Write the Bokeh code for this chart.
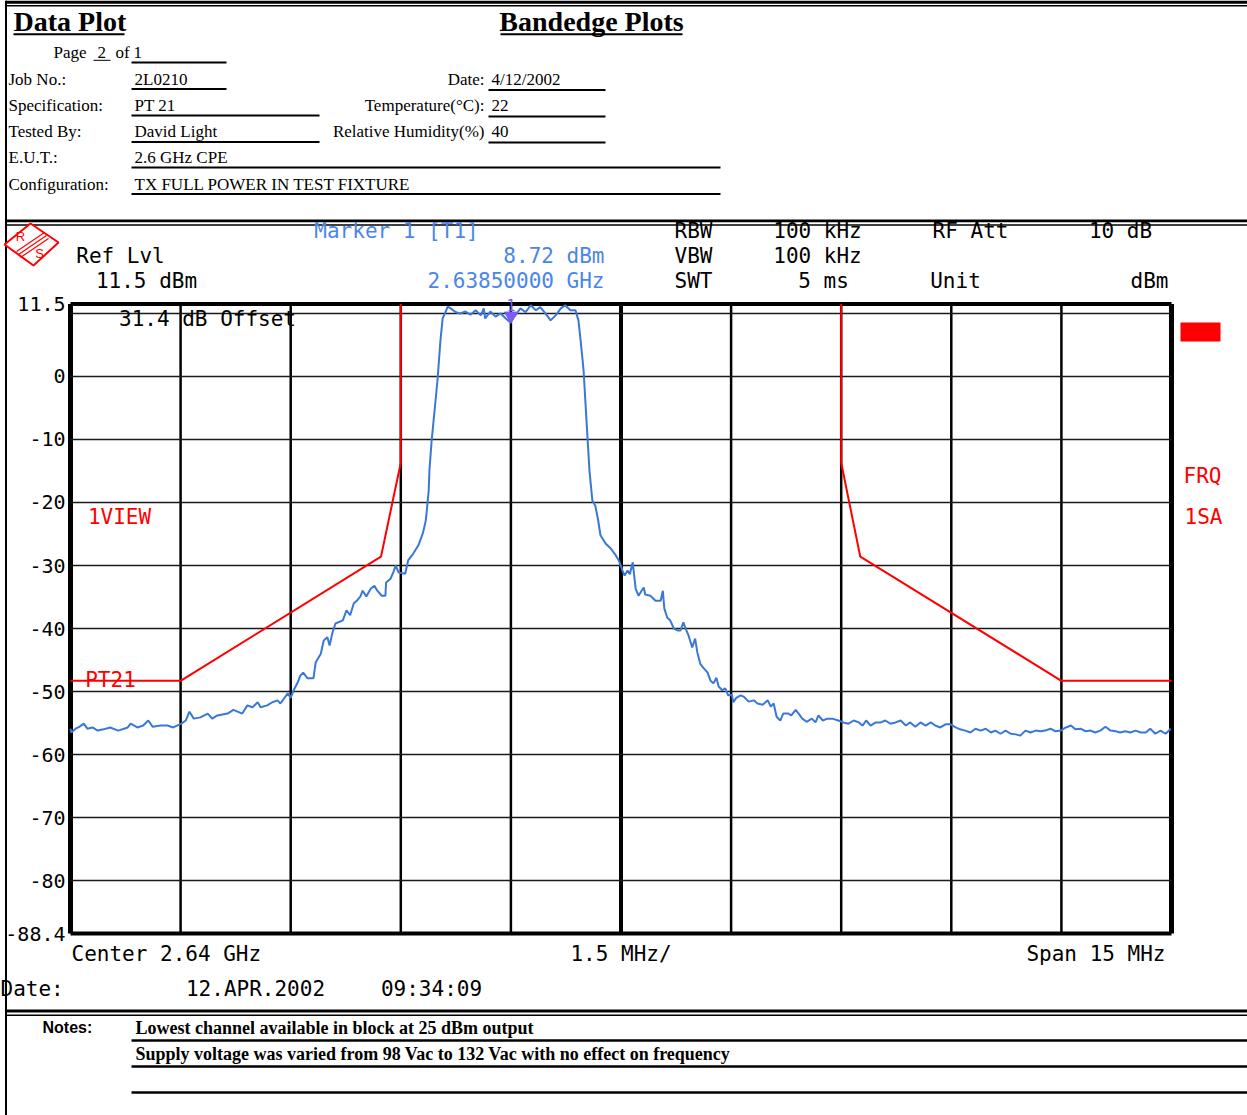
from bokeh.plotting import figure
from bokeh.models import Range1d
from bokeh.core.properties import value
from bokeh.embed import file_html
from bokeh.resources import INLINE

# ---------------- data ----------------
# frequency offset from centre 2.64 GHz, in MHz
trace_offset_mhz = [
    -7.50, -7.49, -7.43, -7.38, -7.32, -7.27, -7.20, -7.13, -7.05, -6.96,
    -6.85, -6.72, -6.68, -6.59, -6.51, -6.44, -6.38, -6.27, -6.18, -6.10,
    -5.99, -5.93, -5.88, -5.82, -5.73, -5.63, -5.57, -5.50, -5.36, -5.28,
    -5.16, -5.09, -5.02, -4.95, -4.91, -4.82, -4.75, -4.68, -4.64, -4.54,
    -4.50, -4.46, -4.41, -4.37, -4.33, -4.27, -4.19, -4.16, -4.09, -4.05,
    -4.00, -3.97, -3.93, -3.89, -3.79, -3.74, -3.69, -3.64, -3.60, -3.55,
    -3.52, -3.47, -3.41, -3.36, -3.32, -3.26, -3.21, -3.20, -3.14, -3.10,
    -3.07, -3.03, -2.94, -2.90, -2.83, -2.76, -2.70, -2.66, -2.64, -2.62,
    -2.61, -2.58, -2.54, -2.50, -2.46, -2.43, -2.36, -2.32, -2.25, -2.19,
    -2.12, -2.05, -1.98, -1.91, -1.87, -1.85, -1.78, -1.71, -1.64, -1.57,
    -1.51, -1.44, -1.37, -1.30, -1.23, -1.16, -1.10, -1.03, -0.96, -0.89,
    -0.82, -0.76, -0.69, -0.62, -0.58, -0.55, -0.51, -0.47, -0.43, -0.39,
    -0.35, -0.31, -0.28, -0.21, -0.14, -0.07, -0.03, 0.02, 0.05, 0.09,
    0.12, 0.16, 0.20, 0.24, 0.28, 0.31, 0.33, 0.40, 0.47, 0.54,
    0.57, 0.59, 0.63, 0.67, 0.72, 0.77, 0.81, 0.85, 0.88, 0.92,
    0.97, 1.01, 1.04, 1.08, 1.12, 1.18, 1.22, 1.26, 1.30, 1.33,
    1.38, 1.42, 1.46, 1.51, 1.53, 1.57, 1.63, 1.67, 1.74, 1.81,
    1.86, 1.93, 2.00, 2.04, 2.08, 2.12, 2.17, 2.21, 2.28, 2.32,
    2.38, 2.42, 2.47, 2.53, 2.60, 2.65, 2.69, 2.75, 2.81, 2.88,
    2.96, 3.03, 3.10, 3.17, 3.24, 3.29, 3.34, 3.40, 3.47, 3.54,
    3.60, 3.67, 3.74, 3.81, 3.88, 3.94, 4.01, 4.08, 4.15, 4.22,
    4.28, 4.35, 4.42, 4.49, 4.56, 4.62, 4.69, 4.76, 4.83, 4.90,
    4.97, 5.04, 5.10, 5.17, 5.24, 5.31, 5.38, 5.44, 5.51, 5.58,
    5.65, 5.72, 5.78, 5.85, 5.92, 5.99, 6.06, 6.13, 6.19, 6.26,
    6.33, 6.40, 6.46, 6.53, 6.60, 6.67, 6.74, 6.80, 6.87, 6.94,
    7.01, 7.08, 7.15, 7.21, 7.28, 7.35, 7.42, 7.49,
]
trace_level_dbm = [
    -55.9, -56.5, -55.9, -55.6, -55.1, -55.9, -55.7, -56.2, -56.0, -55.7,
    -56.2, -55.7, -55.1, -55.7, -55.4, -54.6, -55.6, -55.4, -55.4, -55.7,
    -55.1, -54.6, -53.2, -54.3, -54.1, -53.5, -54.3, -53.8, -53.5, -52.9,
    -53.5, -52.2, -52.5, -51.7, -52.5, -52.2, -51.7, -51.4, -51.9, -50.3,
    -51.0, -49.8, -48.7, -47.5, -47.0, -47.9, -47.9, -45.4, -44.0, -41.9,
    -41.4, -42.7, -40.6, -39.2, -38.7, -37.1, -37.9, -36.0, -35.6, -34.9,
    -34.0, -34.9, -33.7, -33.2, -34.0, -34.8, -34.8, -32.7, -32.1, -31.0,
    -30.0, -31.1, -31.3, -29.2, -28.1, -26.8, -24.9, -22.9, -20.6, -18.1,
    -14.9, -10.2, -5.4, -0.6, 5.7, 9.2, 11.1, 10.8, 10.2, 10.0,
    10.3, 9.8, 10.5, 9.7, 10.8, 9.2, 10.3, 9.5, 10.0, 9.2,
    8.6, 9.7, 10.8, 10.2, 11.3, 10.5, 11.0, 10.0, 8.9, 9.7,
    10.8, 11.3, 10.5, 10.5, 8.9, 5.7, 1.0, -7.0, -14.9, -19.7,
    -20.5, -22.9, -25.2, -26.5, -27.3, -28.4, -29.2, -30.8, -31.6, -30.8,
    -31.4, -29.5, -33.7, -34.8, -34.0, -33.5, -34.6, -34.8, -35.6, -35.6,
    -34.0, -36.8, -38.3, -38.7, -40.0, -40.3, -40.3, -39.0, -40.0, -41.1,
    -43.0, -41.6, -43.8, -45.6, -46.2, -47.0, -48.3, -48.7, -47.8, -49.2,
    -49.8, -49.5, -50.6, -50.5, -51.7, -51.0, -50.6, -50.8, -51.6, -51.4,
    -51.9, -52.1, -51.4, -52.4, -51.9, -54.0, -54.6, -53.5, -53.5, -53.8,
    -52.9, -53.5, -54.3, -54.8, -54.3, -54.9, -53.8, -54.6, -54.3, -54.3,
    -54.6, -54.9, -55.1, -54.6, -54.9, -55.4, -54.6, -55.4, -54.9, -54.9,
    -54.6, -55.1, -54.9, -54.6, -55.4, -54.9, -55.6, -54.9, -55.4, -54.9,
    -55.4, -55.7, -55.2, -55.2, -55.7, -56.0, -56.2, -56.5, -55.9, -56.2,
    -55.9, -56.5, -56.2, -56.7, -56.2, -56.7, -56.8, -57.0, -56.2, -56.5,
    -56.2, -56.3, -56.2, -55.9, -56.3, -56.2, -55.7, -55.4, -56.0, -55.9,
    -56.3, -56.2, -56.5, -56.2, -55.6, -56.2, -56.3, -56.5, -56.3, -56.5,
    -56.2, -56.5, -56.5, -55.9, -56.7, -56.2, -56.7, -55.9,
]

# PT21 limit mask
mask_left_offset_mhz = [-7.5, -6.0, -3.27, -3.0, -3.0]
mask_left_level_dbm = [-48.3, -48.3, -28.6, -13.7, 11.5]
mask_right_offset_mhz = [3.0, 3.0, 3.26, 6.0, 7.5]
mask_right_level_dbm = [11.5, -13.7, -28.6, -48.3, -48.3]

# marker 1 (2.6385 GHz, 8.72 dBm)
marker_offset_mhz = [-1.5]
marker_level_dbm = [8.72]

# axes / divisions
freq_div_ticks = [-7.5, -6.0, -4.5, -3.0, -1.5, 0.0, 1.5, 3.0, 4.5, 6.0, 7.5]
level_grid_dbm = [10, 0, -10, -20, -30, -40, -50, -60, -70, -80]
level_tick_values = [11.5, 0, -10, -20, -30, -40, -50, -60, -70, -80, -88.4]
level_tick_labels = ["11.5", "0", "-10", "-20", "-30", "-40", "-50", "-60",
                     "-70", "-80", "-88.4"]

# form texts
form_labels = ["Job No.:", "Specification:", "Tested By:", "E.U.T.:", "Configuration:"]
form_values = ["2L0210", "PT 21", "David Light", "2.6 GHz CPE", "TX FULL POWER IN TEST FIXTURE"]
cond_labels = ["Date:", "Temperature(°C):", "Relative Humidity(%)"]
cond_values = ["4/12/2002", "22", "40"]
notes_lines = ["Lowest channel available in block at 25 dBm output",
               "Supply voltage was varied from 98 Vac to 132 Vac with no effect on frequency"]

# ---------------- layout ----------------
W, H = 1247, 1115
GX0, GX1 = 70.0, 1171.0      # grid left / right (px)
GY0, GY1 = 303.5, 933.0      # grid top / bottom (px)
f_lo, f_hi = freq_div_ticks[0], freq_div_ticks[-1]
l_hi, l_lo = level_tick_values[0], level_tick_values[-1]
kx = (f_hi - f_lo) / (GX1 - GX0)
ky = (l_hi - l_lo) / (GY1 - GY0)

p = figure(width=W, height=H,
           x_range=Range1d(f_lo - GX0 * kx, f_hi + (W - GX1) * kx),
           y_range=Range1d(l_lo - (H - GY1) * ky, l_hi + GY0 * ky),
           x_axis_location=None, y_axis_location=None,
           toolbar_location=None, output_backend="svg", min_border=0)
p.outline_line_color = None
p.background_fill_color = "white"
p.border_fill_color = "white"
p.grid.grid_line_color = None
p.extra_x_ranges = {"px": Range1d(0, W)}
p.extra_y_ranges = {"px": Range1d(H, 0)}
PX = dict(x_range_name="px", y_range_name="px")

RED = "#ff0000"
BLUE_TXT = "#4a86e8"
TRACE = "#3a78d8"
MONO = "DejaVu Sans Mono"
SERIF = "Liberation Serif"


def px_lines(segs, width, color="black"):
    p.segment(x0=[s[0] for s in segs], y0=[s[1] for s in segs],
              x1=[s[2] for s in segs], y1=[s[3] for s in segs],
              line_width=width, line_color=color, **PX)


def px_text(xs, ys, texts, font, size, color="black", align="left",
            baseline="middle", style="normal"):
    p.text(x=xs, y=ys, text=texts, text_font=value(font), text_font_size=size,
           text_color=color, text_align=align, text_baseline=baseline,
           text_font_style=style, **PX)


# ---------------- page form ----------------
px_lines([(5, 1.7, W, 1.7)], 3.3)
px_lines([(5, 5.2, W, 5.2), (5, 224.5, W, 224.5), (5, 1014.8, W, 1014.8)], 1.4)
px_lines([(5, 220.3, W, 220.3), (5, 1010.5, W, 1010.5)], 2.8)
px_lines([(5.5, 0, 5.5, H)], 2)

px_text([13], [21], ["Data Plot"], SERIF, "28px", style="bold")
px_text([591], [21], ["Bandedge Plots"], SERIF, "28px", align="center", style="bold")
px_lines([(13, 33.8, 124, 33.8), (500, 33.8, 682, 33.8)], 2)

px_text([53, 97, 115, 133], [52, 52, 52, 52], ["Page", "2", "of", "1"], SERIF, "17px")
px_lines([(93, 59.8, 110, 59.8)], 1)
form_mid = [78.5, 104.5, 130.5, 157, 183.5]
px_text([8] * 5, form_mid, form_labels, SERIF, "17px")
px_text([134] * 5, form_mid, form_values, SERIF, "17px")
px_text([484] * 3, form_mid[:3], cond_labels, SERIF, "17px", align="right")
px_text([491] * 3, form_mid[:3], cond_values, SERIF, "17px")
px_lines([(131, 62, 226, 62), (131, 88.5, 226, 88.5), (131, 115, 319, 115),
          (131, 141.5, 319, 141.5), (131, 167, 720, 167), (131, 193.5, 720, 193.5),
          (488, 89.5, 605, 89.5), (488, 116, 605, 116), (488, 142, 605, 142)], 2)

# notes
px_text([42], [1027], ["Notes:"], "Liberation Sans", "16px", style="bold")
px_text([135, 135], [1027, 1053], notes_lines, SERIF, "18px", style="bold")
px_lines([(131, 1040, W, 1040), (131, 1066, W, 1066), (131, 1092, W, 1092)], 2.5)

# ---------------- instrument annotations ----------------
# R&S logo
p.patch(x=[4, 30, 58, 33], y=[244, 223, 242, 265], fill_color="white",
        line_color=RED, line_width=2, **PX)
px_lines([(16, 251, 44, 232), (18, 254, 46, 235), (20, 257, 48, 238)], 1.2, RED)
px_text([20, 39], [236, 253], ["R", "S"], "Liberation Sans", "13px", color=RED,
        align="center")

inst_font = "21px"
px_text([120, 146, 693, 693, 693, 970, 955, 1120, 1149],
        [255, 280, 230, 255, 280, 230, 280, 230, 280],
        ["Ref Lvl", "11.5 dBm", "RBW", "VBW", "SWT", "RF Att", "Unit", "10 dB", "dBm"],
        MONO, inst_font, align="center")
px_text([817, 817, 823], [230, 255, 280], ["100 kHz", "100 kHz", "5 ms"],
        MONO, inst_font, align="center")
px_text([396], [230], ["Marker 1 [T1]"], MONO, inst_font, color=BLUE_TXT,
        align="center")
px_text([604, 604], [255, 280], ["8.72 dBm", "2.63850000 GHz"], MONO, inst_font,
        color=BLUE_TXT, align="right")

# ---------------- grid (through data scales) ----------------
n = len(freq_div_ticks)
v_widths = [5 if i in (0, n - 1) else (4 if i == n // 2 else 2.5) for i in range(n)]
p.segment(x0=freq_div_ticks, y0=[l_lo] * n, x1=freq_div_ticks, y1=[l_hi] * n,
          line_width=v_widths, line_color="black")
m = len(level_grid_dbm)
p.segment(x0=[f_lo] * m, y0=level_grid_dbm, x1=[f_hi] * m, y1=level_grid_dbm,
          line_width=1.4, line_color="#1a1a1a")
p.segment(x0=[f_lo, f_lo], y0=[l_hi, l_lo], x1=[f_hi, f_hi], y1=[l_hi, l_lo],
          line_width=4, line_color="black")

# y tick labels
p.text(x=[f_lo] * len(level_tick_values), y=level_tick_values, text=level_tick_labels,
       x_offset=-5, text_align="right", text_baseline="middle",
       text_font=value(MONO), text_font_size="20px", text_color="black")

px_text([207], [318], ["31.4 dB Offset"], MONO, inst_font, align="center")

# mask
p.line(mask_left_offset_mhz, mask_left_level_dbm, line_color=RED, line_width=2)
p.line(mask_right_offset_mhz, mask_right_level_dbm, line_color=RED, line_width=2)

# trace
p.line(trace_offset_mhz, trace_level_dbm, line_color=TRACE, line_width=2)

# marker
p.scatter(marker_offset_mhz, [v + 0.9 for v in marker_level_dbm], marker="inverted_triangle",
          size=13, fill_color="#7c5cf2", line_color="#7c5cf2")
p.text(x=marker_offset_mhz, y=[304], text=["1"], y_range_name="px",
       text_align="center", text_baseline="middle", text_font=value(MONO),
       text_font_size="15px", text_color="#7c5cf2")

# side labels
px_text([119, 110], [516, 679], ["1VIEW", "PT21"], MONO, inst_font, color=RED,
        align="center")
px_text([1202, 1203], [475, 516], ["FRQ", "1SA"], MONO, inst_font, color=RED,
        align="center")
p.quad(left=[1180], right=[1220], top=[322], bottom=[341], fill_color=RED,
       line_color=None, **PX)

# bottom instrument text
p.text(x=[f_lo, 0.0, f_hi], y=[953, 953, 953],
       text=["Center 2.64 GHz", "1.5 MHz/", "Span 15 MHz"],
       x_offset=[1, 0, -6], text_align=["left", "center", "right"], text_baseline="middle",
       text_font=value(MONO), text_font_size=inst_font, text_color="black", y_range_name="px")
px_text([0, 255, 431], [988, 988, 988], ["Date:", "12.APR.2002", "09:34:09"],
        MONO, inst_font, align=["left", "center", "center"])

open("out.html", "w").write(file_html(p, INLINE))
